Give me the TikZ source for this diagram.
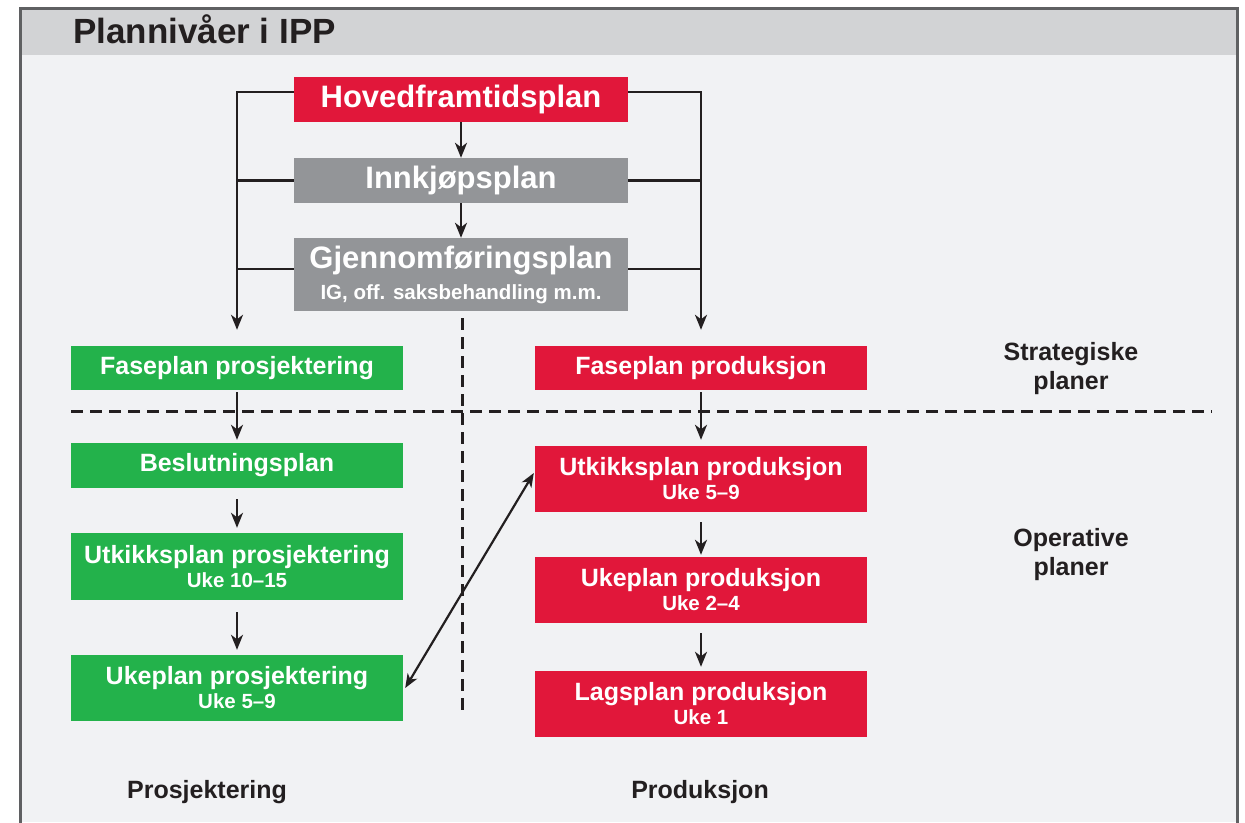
\documentclass[tikz,border=0pt]{standalone}
\usepackage{fontspec}
\setmainfont{Liberation Sans}
\usetikzlibrary{arrows.meta,calc}

\definecolor{planred}{HTML}{E1173A}
\definecolor{plangreen}{HTML}{23B24B}
\definecolor{plangray}{HTML}{939598}
\definecolor{headgray}{HTML}{D2D3D5}
\definecolor{bodygray}{HTML}{F1F2F4}
\definecolor{framegray}{HTML}{5F6062}
\definecolor{ink}{HTML}{231F20}

% smaller second line inside a plan box
\newcommand{\plansub}[1]{{\fontsize{20.5}{22}\selectfont #1}}

\tikzset{
  planbox/.style={rectangle, inner sep=0pt, text=white, align=center,
    font=\bfseries\fontsize{25}{27}\selectfont},
  bigbox/.style={planbox, minimum width=334pt, minimum height=45pt,
    font=\bfseries\fontsize{31}{33}\selectfont},
  colbox/.style={planbox, minimum width=332pt, minimum height=45pt},
  tallbox/.style={colbox, minimum height=66pt},
  conn/.style={draw=ink, line width=2.6pt},
  arr/.style={conn, -{Stealth[length=15pt,width=12pt,inset=4.5pt]}},
  darr/.style={draw=ink, line width=2.2pt,
    {Stealth[length=14pt,width=11pt,inset=4pt]}-{Stealth[length=14pt,width=11pt,inset=4pt]}},
  divider/.style={draw=ink, line width=3pt, dash pattern=on 12pt off 7pt},
  sidelabel/.style={text=ink, align=center, inner sep=0pt,
    font=\bfseries\fontsize{25}{29}\selectfont}
}

\begin{document}
\begin{tikzpicture}[x=1pt,y=-1pt]
\useasboundingbox (0,0) rectangle (1245,822);

% panel background, header band and frame
\fill[bodygray] (20,8) rectangle (1237,822);
\fill[headgray] (20,8) rectangle (1237,55);
\draw[framegray, line width=3pt] (20,830) -- (20,8) -- (1237,8) -- (1237,830);
\node[anchor=base west, text=ink, inner sep=0pt,
      font=\bfseries\fontsize{35}{38}\selectfont] (title) at (73,43) {Plannivåer i IPP};

% master plans
\node[bigbox, fill=planred]  (hoved)   at (461,99.5)  {Hovedframtidsplan};
\node[bigbox, fill=plangray] (innkjop) at (461,180.5) {Innkjøpsplan};
\node[bigbox, fill=plangray, minimum height=73pt] (gjennom) at (461,274.5)
  {Gjennomføringsplan\\[-2pt]\plansub{IG, off. saksbehandling m.m.}};

% design column
\node[colbox, fill=plangreen, minimum height=44pt] (faseprosj) at (237,368) {Faseplan prosjektering};
\node[colbox, fill=plangreen] (beslut)   at (237,465.5) {Beslutningsplan};
\node[tallbox, fill=plangreen, minimum height=67pt] (utkprosj) at (237,566.5)
  {Utkikksplan prosjektering\\[-3pt]\plansub{Uke 10–15}};
\node[tallbox, fill=plangreen] (ukeprosj) at (237,688)
  {Ukeplan prosjektering\\[-3pt]\plansub{Uke 5–9}};

% production column
\node[colbox, fill=planred, minimum height=44pt] (faseprod) at (701,368) {Faseplan produksjon};
\node[tallbox, fill=planred] (utkprod) at (701,479)
  {Utkikksplan produksjon\\[-3pt]\plansub{Uke 5–9}};
\node[tallbox, fill=planred] (ukeprod) at (701,590)
  {Ukeplan produksjon\\[-3pt]\plansub{Uke 2–4}};
\node[tallbox, fill=planred] (lags) at (701,704)
  {Lagsplan produksjon\\[-3pt]\plansub{Uke 1}};

% level and column labels
\node[sidelabel] (strat) at (1071,369) {Strategiske\\planer};
\node[sidelabel] (oper)  at (1071,555) {Operative\\planer};
\node[sidelabel] (lprosj) at (207,792) {Prosjektering};
\node[sidelabel] (lprod)  at (700,792) {Produksjon};

% dividers between strategic/operative and design/production
\draw[divider] (71,411) -- (1212,411);
\draw[divider] (462,318) -- (462,712);

% distribution from the master plans
\draw[arr, shorten >=16pt] ([yshift=7.5pt]hoved.west) -| (faseprosj.north);
\draw[arr, shorten >=16pt] ([yshift=7.5pt]hoved.east) -| (faseprod.north);
\draw[conn] (innkjop.west) -- (innkjop.west -| faseprosj.north);
\draw[conn] (innkjop.east) -- (innkjop.east -| faseprod.north);
\draw[conn] ([yshift=5.5pt]gjennom.west) -- ++(-57,0);
\draw[conn] ([yshift=5.5pt]gjennom.east) -- ++(73,0);
\draw[arr] (hoved) -- (innkjop);
\draw[arr] (innkjop) -- (gjennom);

% design chain
\draw[arr, shorten <=2pt, shorten >=3pt] (faseprosj) -- (beslut);
\draw[arr, shorten <=11pt, shorten >=5pt] (beslut) -- (utkprosj);
\draw[arr, shorten <=12pt, shorten >=5pt] (utkprosj) -- (ukeprosj);

% production chain
\draw[arr, shorten <=2pt, shorten >=6pt] (faseprod) -- (utkprod);
\draw[arr, shorten <=10pt, shorten >=2pt] (utkprod) -- (ukeprod);
\draw[arr, shorten <=10pt, shorten >=4pt] (ukeprod) -- (lags);

% coordination between weekly design plan and production outlook
\draw[darr] ([xshift=2pt]ukeprosj.east) -- ([yshift=6pt,xshift=-1pt]utkprod.west);
\end{tikzpicture}
\end{document}
